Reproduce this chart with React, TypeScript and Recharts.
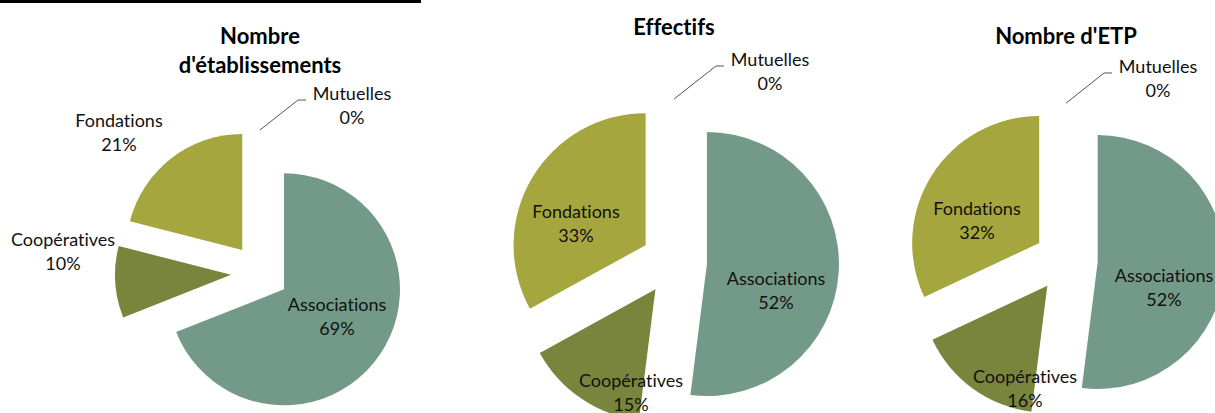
import { PieChart, Pie, Cell, Sector } from 'recharts';

// categories, in the order the slices are drawn (clockwise from 12 o'clock)
const categories = ['Associations', 'Coopératives', 'Fondations', 'Mutuelles'];

// percentages per chart
const etablissements = [69, 10, 21, 0];
const effectifs = [52, 15, 33, 0];
const etp = [52, 16, 32, 0];

const titles = [['Nombre', "d'établissements"], ['Effectifs'], ["Nombre d'ETP"]];

const colors = ['#739A88', '#79853D', '#A6A63E', '#6F84A8'];

const FONT = 'Lato, "Open Sans", sans-serif';
const noLig = { fontVariantLigatures: 'none' as const };

// layout: pie centre/radius and label offsets (first baseline, relative to centre)
const pies = [
    {
        values: etablissements, cx: 260, cy: 273, r: 116,
        labels: [[77, 38], [-197, -27], [-141, -146], [92, -173]],
        title: { x: 260, y: 44, step: 29 },
    },
    {
        values: effectifs, cx: 674, cy: 262, r: 132,
        labels: [[102, 23], [-43, 125], [-98, -44], [96, -196]],
        title: { x: 674, y: 35, step: 29 },
    },
    {
        values: etp, cx: 1066, cy: 260, r: 127,
        labels: [[98, 22], [-41, 123], [-89, -45], [92, -187]],
        title: { x: 1066, y: 44, step: 29 },
    },
];

const RAD = Math.PI / 180;

// exploded slice: pushed out along its bisector by 25% of the radius
const explodedShape = (props: any) => {
    const d = props.outerRadius * 0.25;
    const a = -props.midAngle * RAD;
    return (
        <Sector
            cx={props.cx + d * Math.cos(a)}
            cy={props.cy + d * Math.sin(a)}
            innerRadius={0}
            outerRadius={props.outerRadius}
            startAngle={props.startAngle}
            endAngle={props.endAngle}
            fill={props.fill}
            stroke="none"
        />
    );
};

const makeLabel = (offsets: number[][]) => (props: any) => {
    const { cx, cy, index, name, percent, outerRadius, midAngle } = props;
    const [dx, dy] = offsets[index];
    const x = cx + dx;
    const y = cy + dy;
    let leader = null;
    if (name === 'Mutuelles') {
        const a = -midAngle * RAD;
        const rr = outerRadius * 1.25 - 2;
        const sx = cx + rr * Math.cos(a);
        const sy = cy + rr * Math.sin(a);
        leader = (
            <polyline
                points={`${sx},${sy} ${x - 54},${y} ${x - 46},${y}`}
                fill="none"
                stroke="#555"
                strokeWidth={1}
            />
        );
    }
    return (
        <g key={`lbl-${index}`}>
            {leader}
            <text x={x} y={y} textAnchor="middle" fontFamily={FONT} fontSize={18} fill="#111" style={noLig}>
                {name}
            </text>
            <text x={x} y={y + 24} textAnchor="middle" fontFamily={FONT} fontSize={18} fill="#111" style={noLig}>
                {`${Math.round(percent * 100)}%`}
            </text>
        </g>
    );
};

export default function App() {
    return (
        <div style={{ position: 'absolute', left: 0, top: 0, width: 1215, height: 413, background: '#fff', overflow: 'hidden' }}>
            <PieChart width={1215} height={413} margin={{ top: 0, right: 0, bottom: 0, left: 0 }}>
                {pies.map((p, k) => (
                    <Pie
                        key={k}
                        data={categories.map((name, i) => ({ name, value: p.values[i] }))}
                        dataKey="value"
                        nameKey="name"
                        cx={p.cx}
                        cy={p.cy}
                        outerRadius={p.r}
                        startAngle={90}
                        endAngle={-270}
                        stroke="none"
                        shape={explodedShape}
                        label={makeLabel(p.labels)}
                        labelLine={false}
                        isAnimationActive={false}
                    >
                        {categories.map((c, i) => (
                            <Cell key={c} fill={colors[i]} />
                        ))}
                    </Pie>
                ))}
            </PieChart>
            <svg width={1215} height={413} style={{ position: 'absolute', left: 0, top: 0, pointerEvents: 'none' }}>
                <rect x={0} y={0} width={421} height={3} fill="#000" />
                {pies.map((p, k) =>
                    titles[k].map((t, j) => (
                        <text
                            key={`${k}-${j}`}
                            x={p.title.x}
                            y={p.title.y + j * p.title.step}
                            textAnchor="middle"
                            fontFamily={FONT}
                            fontWeight="bold"
                            fontSize={22}
                            fill="#000"
                            style={noLig}
                        >
                            {t}
                        </text>
                    ))
                )}
            </svg>
        </div>
    );
}
